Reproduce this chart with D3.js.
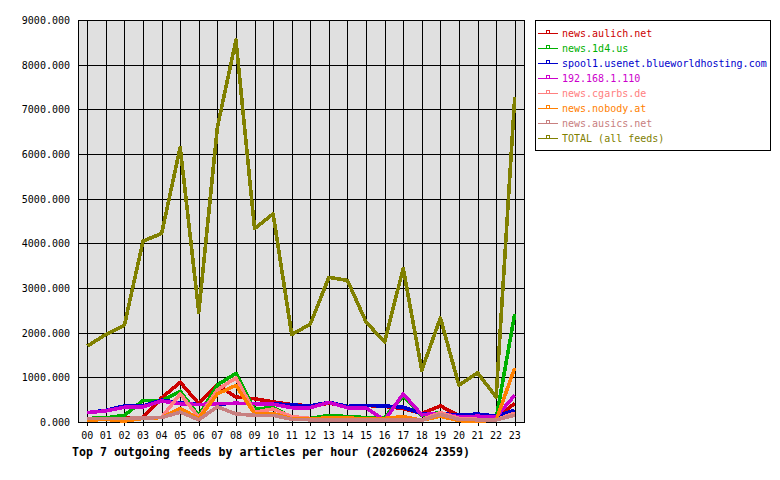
<!DOCTYPE html>
<html>
<head>
<meta charset="utf-8">
<script src="https://d3js.org/d3.v7.min.js"></script>
<style>
  body { margin: 0; background: #fff; }
  text { font-family: "DejaVu Sans Mono", monospace; }
</style>
</head>
<body>
<svg width="780" height="480"></svg>
<script>
// hours of the day
var hours = ["00","01","02","03","04","05","06","07","08","09","10","11",
             "12","13","14","15","16","17","18","19","20","21","22","23"];

var feedNames = ["news.aulich.net", "news.1d4.us", "spool1.usenet.blueworldhosting.com",
                 "192.168.1.110", "news.cgarbs.de", "news.nobody.at", "news.ausics.net",
                 "TOTAL (all feeds)"];
var feedColors = ["#cc0000", "#00b000", "#0000cc", "#cc00cc", "#ff8080", "#ff8000", "#c88080", "#808000"];

var aulich  = [80, 90, 100, 100, 540, 890, 410, 830, 560, 520, 450, 390, 360, 420, 350, 370, 350, 300, 190, 360, 150, 120, 110, 410];
var d4us    = [80, 90, 150, 480, 480, 690, 140, 830, 1090, 280, 330, 100, 80, 150, 120, 100, 100, 580, 150, 210, 100, 80, 70, 2420];
var spool1  = [210, 260, 360, 360, 490, 430, 390, 400, 420, 410, 410, 380, 360, 440, 350, 370, 360, 330, 190, 190, 150, 180, 130, 260];
var lan110  = [210, 250, 330, 340, 470, 410, 390, 410, 420, 410, 400, 320, 320, 440, 320, 320, 40, 630, 160, 200, 110, 130, 110, 600];
var cgarbs  = [70, 70, 70, 90, 100, 630, 100, 720, 990, 220, 290, 120, 80, 80, 80, 70, 40, 40, 50, 210, 80, 60, 50, 200];
var nobody  = [40, 60, 20, 80, 100, 300, 80, 630, 820, 190, 190, 70, 60, 100, 90, 70, 80, 120, 40, 130, 30, 20, 40, 1210];
var ausics  = [80, 80, 80, 90, 100, 220, 50, 340, 180, 150, 150, 60, 50, 50, 50, 50, 50, 50, 40, 170, 60, 50, 50, 150];
var total   = [1700, 1960, 2170, 4050, 4220, 6150, 2460, 6600, 8550, 4330, 4660, 1960, 2190, 3240, 3170, 2240, 1790, 3440, 1160, 2330, 820, 1100, 560, 7270];

var yTicks = [0, 1000, 2000, 3000, 4000, 5000, 6000, 7000, 8000, 9000];

var series = [aulich, d4us, spool1, lan110, cgarbs, nobody, ausics, total];

var svg = d3.select("svg");
var plotL = 78, plotR = 524, plotT = 20, plotB = 422;

var x = d3.scalePoint().domain(hours).range([plotL, plotR]).padding(0.5);
var y = d3.scaleLinear().domain([0, 9000]).range([plotB, plotT]);

svg.append("rect")
  .attr("x", plotL).attr("y", plotT)
  .attr("width", plotR - plotL).attr("height", plotB - plotT)
  .attr("fill", "#e0e0e0");

// grid
svg.append("g")
  .attr("shape-rendering", "crispEdges")
  .selectAll("line").data(hours).enter().append("line")
  .attr("x1", function(d) { return Math.round(x(d)) + 0.5; })
  .attr("x2", function(d) { return Math.round(x(d)) + 0.5; })
  .attr("y1", plotT).attr("y2", plotB + 4)
  .attr("stroke", "#000");

svg.append("g")
  .attr("shape-rendering", "crispEdges")
  .selectAll("line").data(yTicks).enter().append("line")
  .attr("x1", plotL).attr("x2", plotR)
  .attr("y1", function(d) { return Math.round(y(d)) + 0.5; })
  .attr("y2", function(d) { return Math.round(y(d)) + 0.5; })
  .attr("stroke", "#000");

svg.append("rect")
  .attr("x", plotL + 0.5).attr("y", plotT + 0.5)
  .attr("width", plotR - plotL).attr("height", plotB - plotT)
  .attr("fill", "none").attr("stroke", "#000")
  .attr("shape-rendering", "crispEdges");

// axis labels
svg.append("g").selectAll("text").data(yTicks).enter().append("text")
  .attr("x", 70)
  .attr("y", function(d) { return y(d) + 4; })
  .attr("text-anchor", "end")
  .attr("font-size", "10px")
  .text(d3.format(".3f"));

svg.append("g").selectAll("text").data(hours).enter().append("text")
  .attr("x", function(d) { return x(d); })
  .attr("y", 439)
  .attr("text-anchor", "middle")
  .attr("font-size", "10px")
  .text(function(d) { return d; });

// lines
var line = d3.line()
  .x(function(d, i) { return x(hours[i]); })
  .y(function(d) { return y(d); });

svg.append("g").selectAll("path").data(series).enter().append("path")
  .attr("d", line)
  .attr("fill", "none")
  .attr("stroke", function(d, i) { return feedColors[i]; })
  .attr("stroke-width", 3.6)
  .attr("stroke-linejoin", "round")
  .attr("shape-rendering", "crispEdges");

// title
svg.append("text")
  .attr("x", 72).attr("y", 455.5)
  .attr("font-size", "11.6px")
  .attr("font-weight", "bold")
  .text("Top 7 outgoing feeds by articles per hour (20260624 2359)");

// legend
svg.append("rect")
  .attr("x", 535.5).attr("y", 20.5)
  .attr("width", 235).attr("height", 130)
  .attr("fill", "#fff").attr("stroke", "#000")
  .attr("shape-rendering", "crispEdges");

var items = svg.append("g").selectAll("g").data(feedNames).enter().append("g")
  .attr("transform", function(d, i) { return "translate(0," + (33 + i * 15) + ")"; })
  .attr("shape-rendering", "crispEdges");

items.append("line")
  .attr("x1", 538).attr("x2", 558).attr("y1", 0.5).attr("y2", 0.5)
  .attr("stroke", function(d, i) { return feedColors[i]; });

items.append("rect")
  .attr("x", 546.5).attr("y", -2.5).attr("width", 3).attr("height", 3)
  .attr("fill", "none")
  .attr("stroke", function(d, i) { return feedColors[i]; });

items.append("text")
  .attr("x", 562).attr("y", 4)
  .attr("font-size", "10px")
  .attr("fill", function(d, i) { return feedColors[i]; })
  .text(function(d) { return d; });
</script>
</body>
</html>
